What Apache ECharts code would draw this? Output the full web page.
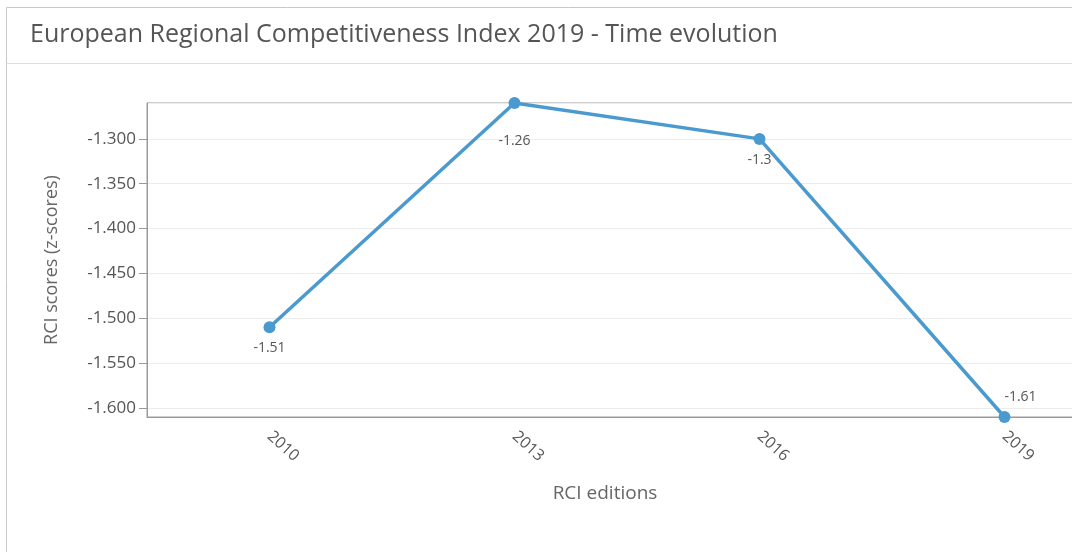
<!DOCTYPE html>
<html>
<head>
<meta charset="utf-8">
<script src="https://cdn.jsdelivr.net/npm/echarts@6/dist/echarts.min.js"></script>
<style>
  html, body { margin: 0; padding: 0; overflow: hidden; background: #fff; }
  /* plot runs past the right edge, as in the reference */
  #chart { width: 1130px; height: 552px; }
</style>
</head>
<body>
<div id="chart"></div>
<script>
// RCI editions and scores
const editions = ['2010', '2013', '2016', '2019']
const scores = [-1.51, -1.26, -1.3, -1.61]

// where each value label sits (highcharts-ish placement)
const labelPlace = [
    { position: 'bottom', distance: 8 },
    { position: 'bottom', distance: 25 },
    { position: 'bottom', distance: 8 },
    { position: 'top', distance: 7, offset: [16, 0] }
]

const chart = echarts.init(document.getElementById('chart'))
const axisGrey = '#9a9a9a'
const textGrey = '#555'

const option = {
    animation: false,
    title: {
        text: 'European Regional Competitiveness Index 2019 - Time evolution',
        left: 25,
        top: 17,
        textStyle: { fontFamily: 'Open Sans', fontSize: 25, fontWeight: 'normal', color: '#555' }
    },
    graphic: [
        { type: 'rect', shape: { x: 6.5, y: 7.5, width: 1200, height: 700 }, style: { fill: 'none', stroke: '#c8c8c8', lineWidth: 1 } },
        { type: 'line', shape: { x1: 6, y1: 63.5, x2: 1130, y2: 63.5 }, style: { stroke: '#dcdcdc', lineWidth: 1 } }
    ],
    grid: {
        left: 147,
        right: 3,
        top: 103,
        bottom: 135,
        show: true,
        borderColor: axisGrey,
        borderWidth: 1
    },
    xAxis: {
        type: 'category',
        data: editions,
        boundaryGap: true,
        name: 'RCI editions',
        nameLocation: 'middle',
        nameGap: 67,
        nameTextStyle: { fontFamily: 'Open Sans', fontSize: 19, color: '#666', padding: [0, 64, 0, 0] },
        axisLine: { lineStyle: { color: axisGrey } },
        axisTick: { alignWithLabel: true, length: 7, lineStyle: { color: axisGrey } },
        axisLabel: { rotate: -42, margin: 17, fontFamily: 'Open Sans', fontSize: 16, color: textGrey },
        splitLine: { show: false }
    },
    yAxis: {
        type: 'value',
        min: -1.61,
        max: -1.26,
        splitNumber: 7,
        name: 'RCI scores (z-scores)',
        nameLocation: 'middle',
        nameGap: 86,
        nameTextStyle: { fontFamily: 'Open Sans', fontSize: 18, color: '#666' },
        axisLine: { show: true, lineStyle: { color: axisGrey } },
        axisTick: { show: true, length: 8, lineStyle: { color: axisGrey } },
        axisLabel: {
            showMinLabel: false,
            showMaxLabel: false,
            margin: 11,
            fontFamily: 'Open Sans',
            fontSize: 17,
            color: textGrey,
            formatter: (v) => v.toFixed(3)
        },
        splitLine: { lineStyle: { color: '#ececec' } }
    },
    series: [
        {
            type: 'line',
            data: scores.map((v, i) => ({ value: v, label: labelPlace[i] })),
            symbol: 'circle',
            symbolSize: 12,
            clip: false,
            lineStyle: { color: '#4a9ad0', width: 3.5 },
            itemStyle: { color: '#4a9ad0' },
            label: {
                show: true,
                fontFamily: 'Open Sans',
                fontSize: 14,
                color: textGrey,
                formatter: (p) => String(p.value)
            }
        }
    ]
}
chart.setOption(option)
</script>
</body>
</html>
